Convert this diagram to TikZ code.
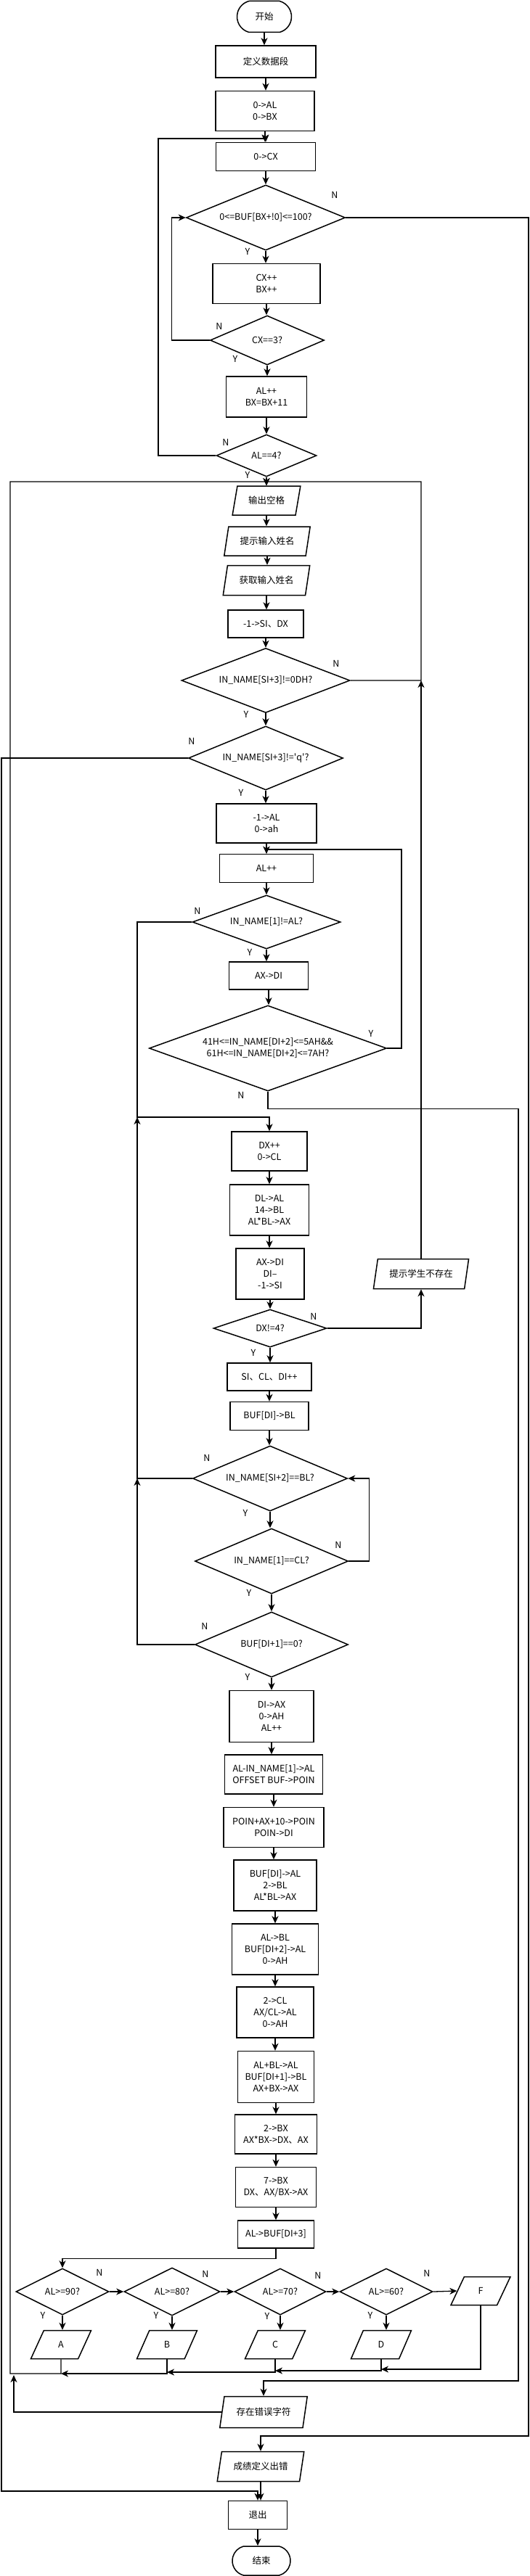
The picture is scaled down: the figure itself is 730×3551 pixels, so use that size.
\documentclass[tikz,border=0pt]{standalone}
\usepackage{fontspec}
\setmainfont{Noto Sans CJK SC}
\usetikzlibrary{arrows.meta,shapes.geometric,shapes.misc,calc}
\tikzset{
  base/.style={draw,line width=1.5pt,fill=white,inner sep=1pt,align=center,
    font=\fontsize{12.5}{16}\selectfont},
  sz/.style 2 args={minimum width=#1,minimum height=#2},
  proc/.style={base,rectangle},
  cond/.style n args={3}{base,diamond,inner sep=0pt,minimum width=#1,minimum height=#2,aspect=#3},
  io/.style={base,trapezium,trapezium left angle=72,trapezium right angle=108,trapezium stretches=true},
  term/.style={base,rounded rectangle,rounded rectangle arc length=150},
  arr/.style={line width=1.3pt,-{Stealth[length=10pt,width=9pt,inset=3pt]}},
  lbl/.style={font=\fontsize{12.5}{15}\selectfont,inner sep=0pt},
}

\begin{document}
\begin{tikzpicture}[x=1pt,y=-1pt]
\useasboundingbox (0,0) rectangle (730,3551);

\node[term,sz={77}{43}] (start) at (364,23) {开始};
\node[proc,sz={138}{44}] (defdata) at (366,85) {定义数据段};
\node[proc,sz={136}{55}] (init) at (365,153) {0->AL\\0->BX};
\node[proc,sz={137}{39}] (cx0) at (366,216) {0->CX};
\node[cond={219}{90}{2.4}] (chk) at (366,300) {0<=BUF[BX+!0]<=100?};
\node[proc,sz={148}{55}] (inc) at (367,391) {CX++\\BX++};
\node[cond={157}{68}{2.3}] (cx3) at (368,469) {CX==3?};
\node[proc,sz={111}{56}] (next) at (367,547) {AL++\\BX=BX+11};
\node[cond={138}{58}{2.4}] (al4) at (367,628) {AL==4?};

\node[io,sz={94}{40}] (space) at (367,690) {输出空格};
\node[io,sz={119}{40}] (prompt) at (368,746) {提示输入姓名};
\node[io,sz={120}{41}] (getname) at (367,800) {获取输入姓名};
\node[proc,sz={104}{38}] (setsi) at (366,860) {-1->SI、DX};
\node[cond={232}{89}{2.6}] (isenter) at (366,938) {IN\_NAME[SI+3]!=0DH?};
\node[cond={213}{88}{2.4}] (isq) at (366,1045) {IN\_NAME[SI+3]!=\textquotesingle q\textquotesingle?};
\node[proc,sz={138}{54}] (setal) at (367,1135) {-1->AL\\0->ah};
\node[proc,sz={129}{39}] (incal) at (367,1197) {AL++};
\node[cond={204}{74}{2.75}] (cmpal) at (367,1271) {IN\_NAME[1]!=AL?};
\node[proc,sz={109}{38}] (axdi) at (370,1345) {AX->DI};
\node[cond={327}{118}{2.77}] (letter) at (369,1445)
  {41H<=IN\_NAME[DI+2]<=5AH\&\&\\61H<=IN\_NAME[DI+2]<=7AH?};

\node[proc,sz={104}{54}] (incdx) at (371,1587) {DX++\\0->CL};
\node[proc,sz={109}{70}] (mul14) at (371,1668) {DL->AL\\14->BL\\AL*BL->AX};
\node[proc,sz={94}{70}] (setdi) at (372,1756) {AX->DI\\DI--\\-1->SI};
\node[io,sz={132}{41}] (nostu) at (580,1756) {提示学生不存在};
\node[cond={156}{52}{3}] (dx4) at (372,1831) {DX!=4?};
\node[proc,sz={116}{38}] (incs) at (371,1898) {SI、CL、DI++};
\node[proc,sz={108}{39}] (ldbl) at (371,1952) {BUF[DI]->BL};
\node[cond={213}{90}{2.4}] (cmpbl) at (372,2038) {IN\_NAME[SI+2]==BL?};
\node[cond={211}{90}{2.3}] (cmpcl) at (374,2152) {IN\_NAME[1]==CL?};
\node[cond={211}{90}{2.3}] (endbuf) at (374,2267) {BUF[DI+1]==0?};

\node[proc,sz={116}{71}] (diax) at (374,2366) {DI->AX\\0->AH\\AL++};
\node[proc,sz={135}{54}] (offs) at (377,2446) {AL-IN\_NAME[1]->AL\\OFFSET BUF->POIN};
\node[proc,sz={138}{55}] (poin) at (377,2519) {POIN+AX+10->POIN\\POIN->DI};
\node[proc,sz={114}{70}] (mul2) at (379,2599) {BUF[DI]->AL\\2->BL\\AL*BL->AX};
\node[proc,sz={119}{70}] (albl) at (379,2687) {AL->BL\\BUF[DI+2]->AL\\0->AH};
\node[proc,sz={106}{70}] (div2) at (379,2774) {2->CL\\AX/CL->AL\\0->AH};
\node[proc,sz={105}{71}] (sum) at (380,2863) {AL+BL->AL\\BUF[DI+1]->BL\\AX+BX->AX};
\node[proc,sz={113}{54}] (mulbx) at (380,2942) {2->BX\\AX*BX->DX、AX};
\node[proc,sz={111}{55}] (div7) at (380,3015) {7->BX\\DX、AX/BX->AX};
\node[proc,sz={105}{38}] (store) at (380,3080) {AL->BUF[DI+3]};

\node[cond={128}{64}{2}] (g90) at (86,3159) {AL>=90?};
\node[cond={132}{66}{2}] (g80) at (237,3159) {AL>=80?};
\node[cond={126}{64}{2}] (g70) at (386,3159) {AL>=70?};
\node[cond={128}{64}{2}] (g60) at (532,3159) {AL>=60?};
\node[io,sz={82}{39}] (gF) at (662,3158) {F};
\node[io,sz={83}{39}] (gA) at (84,3232) {A};
\node[io,sz={83}{39}] (gB) at (230,3232) {B};
\node[io,sz={83}{39}] (gC) at (379,3232) {C};
\node[io,sz={83}{39}] (gD) at (525,3232) {D};

\node[io,sz={121}{43}] (badch) at (363,3325) {存在错误字符};
\node[io,sz={120}{41}] (badsc) at (359,3400) {成绩定义出错};
\node[proc,sz={81}{39}] (quit) at (355,3467) {退出};
\node[term,sz={82}{40}] (stop) at (360,3530) {结束};

\coordinate (busTop) at (367,664);
\coordinate (loopA) at (218,191);
\coordinate (loopQ) at (553,1171);
\coordinate (joinL) at (189,1540);
\coordinate (errR) at (714,3282);
\coordinate (scR) at (728,3358);
\coordinate (quitL) at (2,3434);
\coordinate (busL) at (14,3272);
\coordinate (errJ) at (19,3274);
\coordinate (busF) at (0,3266);
\coordinate (busD) at (0,3268);
\coordinate (busC) at (0,3270);
\coordinate (busB) at (0,3272);

\foreach \a/\b in {start/defdata,defdata/init,init/cx0,cx0/chk,chk/inc,inc/cx3,cx3/next,
  next/al4,al4/space,space/prompt,prompt/getname,getname/setsi,setsi/isenter,isenter/isq,
  isq/setal,setal/incal,incal/cmpal,cmpal/axdi,axdi/letter,incdx/mul14,mul14/setdi,
  setdi/dx4,dx4/incs,incs/ldbl,ldbl/cmpbl,cmpbl/cmpcl,cmpcl/endbuf,endbuf/diax,diax/offs,
  offs/poin,poin/mul2,mul2/albl,albl/div2,div2/sum,sum/mulbx,mulbx/div7,div7/store,
  g90/gA,g80/gB,g70/gC,g60/gD,badsc/quit,quit/stop}
  \draw[arr] (\a.south) -- (\a.south |- \b.north);

\draw[arr] (cx3.west) -- ++(-52,0) |- (chk.west);
\draw[arr] (al4.west) -| (loopA) -- (loopA -| cx0.north) -- (cx0.north);
\draw[arr] (chk.east) -| (scR) -| (badsc.north);

\draw[arr] (isenter.east) -| (nostu.north |- busTop) -- (busTop) -- (space.north);
\draw[arr] (nostu.north) -- (nostu.north |- isenter.east);
\draw[arr] (dx4.east) -| (nostu.south);
\draw[arr] (isq.west) -| (quitL) -- (quitL -| quit.north) -- (quit.north);
\draw[arr] (letter.east) -| (loopQ) -- (loopQ -| incal.north) -- (incal.north);
\draw[arr] (letter.south) -- ++(0,24) -| (errR) -| (badch.north);
\draw[arr] (cmpal.west) -| (joinL) -- (joinL -| incdx.north) -- (incdx.north);
\draw[arr] (cmpbl.west) -| (joinL);
\draw[arr] (endbuf.west) -| (joinL |- cmpbl.west);
\draw[arr] (cmpcl.east) -- ++(28,0) |- (cmpbl.east);

\draw[arr] (store.south) -- ++(0,14) -| (g90.north);
\foreach \a/\b in {g90/g80,g80/g70,g70/g60,g60/gF}
  \draw[arr] (\a.east) -- (\b.west);
\draw[arr] (gF.south) |- (gD.south |- busF);
\draw[arr] (gD.south) |- (gC.south |- busD);
\draw[arr] (gC.south) |- (gB.south |- busC);
\draw[arr] (gB.south) |- (gA.south |- busB);
\draw[arr] (gA.south) |- (busL) -- (busL |- busTop) -- (busTop) -- (space.north);
\draw[arr] (badch.west) -| (errJ);

\foreach \t/\x/\y [count=\i] in {N/461/269,Y/341/347,N/302/450,Y/324/495,N/311/610,
  Y/341/655,N/463/915,Y/339/985,N/264/1022,Y/332/1093,N/272/1256,Y/344/1313,
  Y/511/1425,N/332/1510,N/432/1815,Y/349/1865,N/285/2010,Y/338/2086,N/466/2130,
  Y/343/2196,N/282/2242,Y/341/2312,N/137/3133,N/283/3135,N/438/3137,N/588/3134,
  Y/59/3192,Y/215/3192,Y/368/3193,Y/510/3192}
  \node[lbl] (lab\i) at (\x,\y) {\t};
\end{tikzpicture}
\end{document}
